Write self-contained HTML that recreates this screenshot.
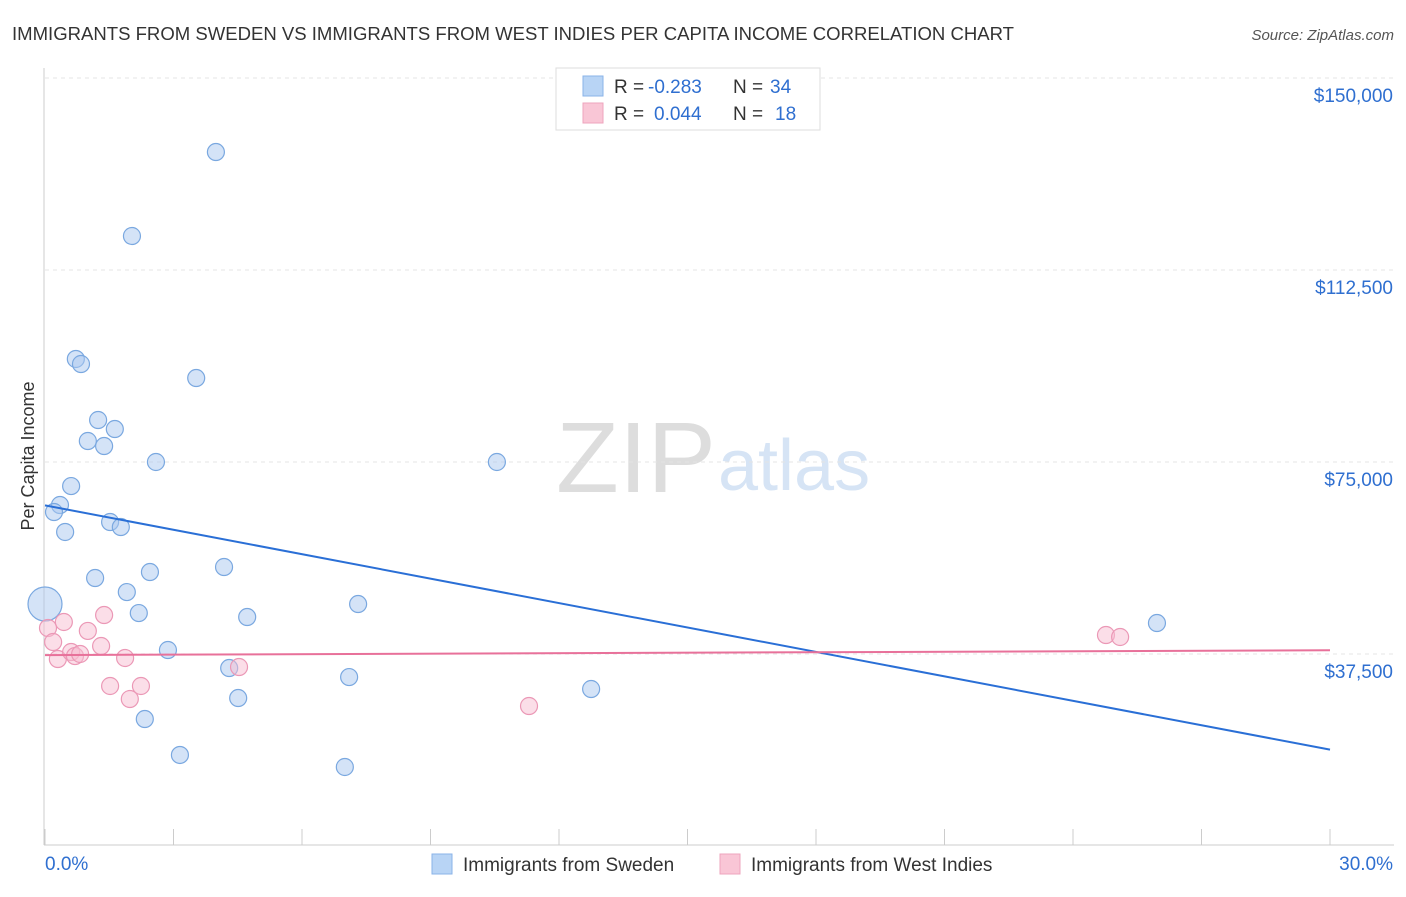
<!DOCTYPE html>
<html><head><meta charset="utf-8"><style>
body{margin:0;background:#fff;font-family:"Liberation Sans",sans-serif}
svg text{font-family:"Liberation Sans",sans-serif}
</style></head><body>
<svg id="chart" width="1406" height="892">
<text x="12" y="40" font-size="18" fill="#333" textLength="1002" lengthAdjust="spacingAndGlyphs">IMMIGRANTS FROM SWEDEN VS IMMIGRANTS FROM WEST INDIES PER CAPITA INCOME CORRELATION CHART</text>
<text x="1394" y="40" font-size="15" fill="#555" text-anchor="end" font-style="italic">Source: ZipAtlas.com</text>
<text x="716" y="492" font-size="100" fill="#ddd" text-anchor="end" font-family="Liberation Serif" textLength="160" lengthAdjust="spacingAndGlyphs">ZIP</text>
<text x="718" y="490" font-size="72" fill="#d6e4f5">atlas</text>
<text transform="translate(34,456) rotate(-90)" font-size="18" fill="#333" text-anchor="middle">Per Capita Income</text>
<g id="grid"></g><g id="axes"></g><g id="marks"></g>
<g>
<rect x="556" y="68" width="264" height="62" fill="#fff" stroke="#ddd"/>
<rect x="583" y="76" width="20" height="20" fill="#b8d4f5" stroke="#8ab3e8"/>
<rect x="583" y="103" width="20" height="20" fill="#f9c6d6" stroke="#eea4bd"/>
<text x="614" y="93" font-size="19" fill="#333">R =</text>
<text x="648" y="93" font-size="19" fill="#2f6fd0">-0.283</text>
<text x="733" y="93" font-size="19" fill="#333">N =</text>
<text x="770" y="93" font-size="19" fill="#2f6fd0">34</text>
<text x="614" y="120" font-size="19" fill="#333">R =</text>
<text x="654" y="120" font-size="19" fill="#2f6fd0">0.044</text>
<text x="733" y="120" font-size="19" fill="#333">N =</text>
<text x="775" y="120" font-size="19" fill="#2f6fd0">18</text>
</g>
<g>
<rect x="432" y="854" width="20" height="20" fill="#b8d4f5" stroke="#8ab3e8"/>
<text x="463" y="871" font-size="19" fill="#333">Immigrants from Sweden</text>
<rect x="720" y="854" width="20" height="20" fill="#f9c6d6" stroke="#eea4bd"/>
<text x="751" y="871" font-size="19" fill="#333">Immigrants from West Indies</text>
</g>
</svg>
<script>
const yTicks=[37500,75000,112500,150000];
const yTickLabels=["$37,500","$75,000","$112,500","$150,000"];
const xTickLabels=["0.0%","30.0%"];
const swedenX=[3.99,2.03,0.72,0.84,3.53,1.24,1.63,1.00,1.38,2.59,10.55,0.61,0.35,0.21,1.52,1.77,0.47,4.18,2.45,1.17,1.91,0.0,7.31,2.19,4.72,25.96,2.87,4.30,7.10,12.75,4.51,2.33,3.15,7.00];
const swedenY=[135540,119140,95120,94140,91400,83200,81440,79100,78120,75000,75000,70300,66600,65230,63280,62300,61330,54490,53510,52340,49600,47260,47260,45500,44720,43550,38280,34760,33000,30660,28900,24800,17780,15430];
const wiX=[0.07,0.19,0.30,0.44,0.61,0.70,0.82,1.00,1.31,1.38,1.52,1.87,1.98,2.24,4.53,11.30,24.77,25.10];
const wiY=[42580,39840,36520,43750,37890,37100,37500,42000,39060,45110,31250,36720,28710,31250,34960,27340,41210,40820];
const NS="http://www.w3.org/2000/svg";
const xS=v=>45+v/30*1285, yS=v=>846-v/37500*192;
function mk(t,a,p){const e=document.createElementNS(NS,t);for(const k in a)e.setAttribute(k,a[k]);p.appendChild(e);return e;}
const grid=document.getElementById('grid'),axes=document.getElementById('axes'),marks=document.getElementById('marks');
yTicks.forEach((v,i)=>{
 const l=mk('line',{x1:45,x2:1394,y1:yS(v),y2:yS(v),stroke:'#e4e4e4','stroke-dasharray':'4,4'},grid);
 
 
 const t=mk('text',{x:1393,y:yS(v)+24,'font-size':19,fill:'#2f6fd0','text-anchor':'end'},grid);t.textContent=yTickLabels[i];
 
 
});
mk('line',{x1:44,x2:44,y1:68,y2:845,stroke:'#ccc'},axes);
mk('line',{x1:44,x2:1394,y1:845,y2:845,stroke:'#ccc'},axes);
for(let i=0;i<=10;i++){mk('line',{x1:xS(i*3),x2:xS(i*3),y1:829,y2:845,stroke:'#ccc'},axes);}
[[0,45,'start'],[1,1393,'end']].forEach(([i,x,a])=>{const t=mk('text',{x:x,y:870,'font-size':19,fill:'#2f6fd0','text-anchor':a},axes);t.textContent=xTickLabels[i];
 
 });
function fit(X,Y){const n=X.length;let mx=0,my=0;X.forEach((x,i)=>{mx+=x;my+=Y[i]});mx/=n;my/=n;let sxy=0,sxx=0;X.forEach((x,i)=>{sxy+=(x-mx)*(Y[i]-my);sxx+=(x-mx)**2});const b=sxy/sxx;return [my-b*mx,b];}
function dots(X,Y,fill,stroke,name){X.forEach((x,i)=>{const r=(x===0&&name==='sweden-point')?17:8.5;
 const c=mk('circle',{cx:xS(x),cy:yS(Y[i]),r:r,fill:fill,stroke:stroke,'stroke-width':1.2},marks);
 
 });}
dots(swedenX,swedenY,'rgba(170,200,240,0.5)','#7aa8e0','sweden-point');
dots(wiX,wiY,'rgba(248,190,210,0.5)','#eb98b6','west-indies-point');
function trend(X,Y,col,name){const [a,b]=fit(X,Y);const l=mk('line',{x1:xS(0),y1:yS(a),x2:xS(30),y2:yS(a+b*30),stroke:col,'stroke-width':2},marks);
 
 }
trend(swedenX,swedenY,'#2a6fd6','sweden-trendline');
trend(wiX,wiY,'#e8719a','west-indies-trendline');
</script>
</body></html>
